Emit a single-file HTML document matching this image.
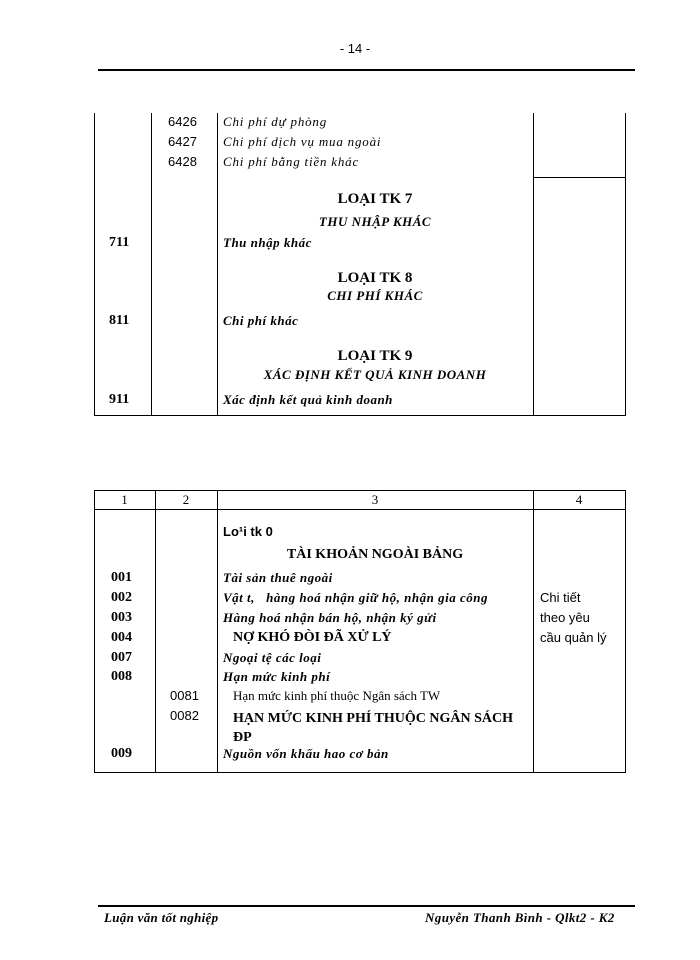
<!DOCTYPE html>
<html><head><meta charset="utf-8"><style>
body{margin:0;width:700px;height:960px;background:#fff;position:relative;overflow:hidden;font-family:"Liberation Serif",serif;color:#000}
.a{position:absolute;white-space:nowrap;line-height:1}
.h{position:absolute;background:#000}
.n{font-family:"Liberation Sans",sans-serif;font-size:13px}
.i{font-style:italic;font-size:13px;letter-spacing:0.8px}
.bi{font-style:italic;font-weight:bold;font-size:13px;letter-spacing:0.5px}
.b{font-weight:bold;font-size:14px}
.c{text-align:center}
</style></head><body>
<div class="a n c" style="left:320px;top:42px;width:70px">- 14 -</div>
<div class="h" style="left:98px;top:69px;width:537px;height:2px"></div>

<!-- table 1 -->
<div class="h" style="left:94px;top:113px;width:1px;height:303px"></div>
<div class="h" style="left:151px;top:113px;width:1px;height:303px"></div>
<div class="h" style="left:217px;top:113px;width:1px;height:303px"></div>
<div class="h" style="left:533px;top:113px;width:1px;height:303px"></div>
<div class="h" style="left:625px;top:113px;width:1px;height:303px"></div>
<div class="h" style="left:533px;top:177px;width:93px;height:1px"></div>
<div class="h" style="left:94px;top:415px;width:532px;height:1px"></div>

<div class="a n" style="left:168px;top:115px">6426</div>
<div class="a n" style="left:168px;top:135px">6427</div>
<div class="a n" style="left:168px;top:155px">6428</div>
<div class="a i" style="left:223px;top:115px">Chi phí dự phòng</div>
<div class="a i" style="left:223px;top:135px">Chi phí dịch vụ mua ngoài</div>
<div class="a i" style="left:223px;top:155px">Chi phí bằng tiền khác</div>

<div class="a b c" style="left:217px;top:192px;width:316px;font-size:15px">LOẠI TK 7</div>
<div class="a bi c" style="left:217px;top:215px;width:316px">THU NHẬP KHÁC</div>
<div class="a b" style="left:109px;top:236px">711</div>
<div class="a bi" style="left:223px;top:236px">Thu nhập khác</div>

<div class="a b c" style="left:217px;top:271px;width:316px;font-size:15px">LOẠI TK 8</div>
<div class="a bi c" style="left:217px;top:289px;width:316px">CHI PHÍ KHÁC</div>
<div class="a b" style="left:109px;top:314px">811</div>
<div class="a bi" style="left:223px;top:314px">Chi phí khác</div>

<div class="a b c" style="left:217px;top:349px;width:316px;font-size:15px">LOẠI TK 9</div>
<div class="a bi c" style="left:217px;top:368px;width:316px">XÁC ĐỊNH KẾT QUẢ KINH DOANH</div>
<div class="a b" style="left:109px;top:393px">911</div>
<div class="a bi" style="left:223px;top:393px">Xác định kết quả kinh doanh</div>

<!-- table 2 -->
<div class="h" style="left:94px;top:490px;width:532px;height:1px"></div>
<div class="h" style="left:94px;top:509px;width:532px;height:1px"></div>
<div class="h" style="left:94px;top:772px;width:532px;height:1px"></div>
<div class="h" style="left:94px;top:490px;width:1px;height:283px"></div>
<div class="h" style="left:155px;top:490px;width:1px;height:283px"></div>
<div class="h" style="left:217px;top:490px;width:1px;height:283px"></div>
<div class="h" style="left:533px;top:490px;width:1px;height:283px"></div>
<div class="h" style="left:625px;top:490px;width:1px;height:283px"></div>

<div class="a c" style="left:94px;top:493px;width:61px;font-size:13px">1</div>
<div class="a c" style="left:155px;top:493px;width:62px;font-size:13px">2</div>
<div class="a c" style="left:217px;top:493px;width:316px;font-size:13px">3</div>
<div class="a c" style="left:533px;top:493px;width:92px;font-size:13px">4</div>

<div class="a n" style="left:223px;top:525px;font-weight:bold">Lo¹i tk 0</div>
<div class="a b c" style="left:217px;top:548px;width:316px">TÀI KHOẢN NGOÀI BẢNG</div>
<div class="a b" style="left:111px;top:571px">001</div>
<div class="a b" style="left:111px;top:591px">002</div>
<div class="a b" style="left:111px;top:611px">003</div>
<div class="a b" style="left:111px;top:631px">004</div>
<div class="a b" style="left:111px;top:651px">007</div>
<div class="a b" style="left:111px;top:670px">008</div>
<div class="a b" style="left:111px;top:747px">009</div>
<div class="a bi" style="left:223px;top:571px">Tài sản thuê ngoài</div>
<div class="a bi" style="left:223px;top:591px">Vật t,&nbsp;&nbsp; hàng hoá nhận giữ hộ, nhận gia công</div>
<div class="a bi" style="left:223px;top:611px">Hàng hoá nhận bán hộ, nhận ký gửi</div>
<div class="a b" style="left:233px;top:631px">NỢ KHÓ ĐÒI ĐÃ XỬ LÝ</div>
<div class="a bi" style="left:223px;top:651px">Ngoại tệ các loại</div>
<div class="a bi" style="left:223px;top:670px">Hạn mức kinh phí</div>
<div class="a n" style="left:170px;top:689px">0081</div>
<div class="a n" style="left:170px;top:709px">0082</div>
<div class="a" style="left:233px;top:689px;font-size:13px">Hạn mức kinh phí thuộc Ngân sách TW</div>
<div class="a b" style="left:233px;top:712px;font-size:14px">HẠN MỨC KINH PHÍ THUỘC NGÂN SÁCH</div>
<div class="a b" style="left:233px;top:731px">ĐP</div>
<div class="a bi" style="left:223px;top:747px">Nguồn vốn khấu hao cơ bản</div>
<div class="a n" style="left:540px;top:591px">Chi tiết</div>
<div class="a n" style="left:540px;top:611px">theo yêu</div>
<div class="a n" style="left:540px;top:631px">cầu quản lý</div>

<div class="h" style="left:98px;top:905px;width:537px;height:2px"></div>
<div class="a" style="left:104px;top:911px;font-style:italic;font-weight:bold;font-size:13px;letter-spacing:0.3px">Luận văn tốt nghiệp</div>
<div class="a" style="left:425px;top:911px;font-style:italic;font-weight:bold;font-size:13px;letter-spacing:0.4px">Nguyễn Thanh Bình - Qlkt2 - K2</div>
</body></html>
